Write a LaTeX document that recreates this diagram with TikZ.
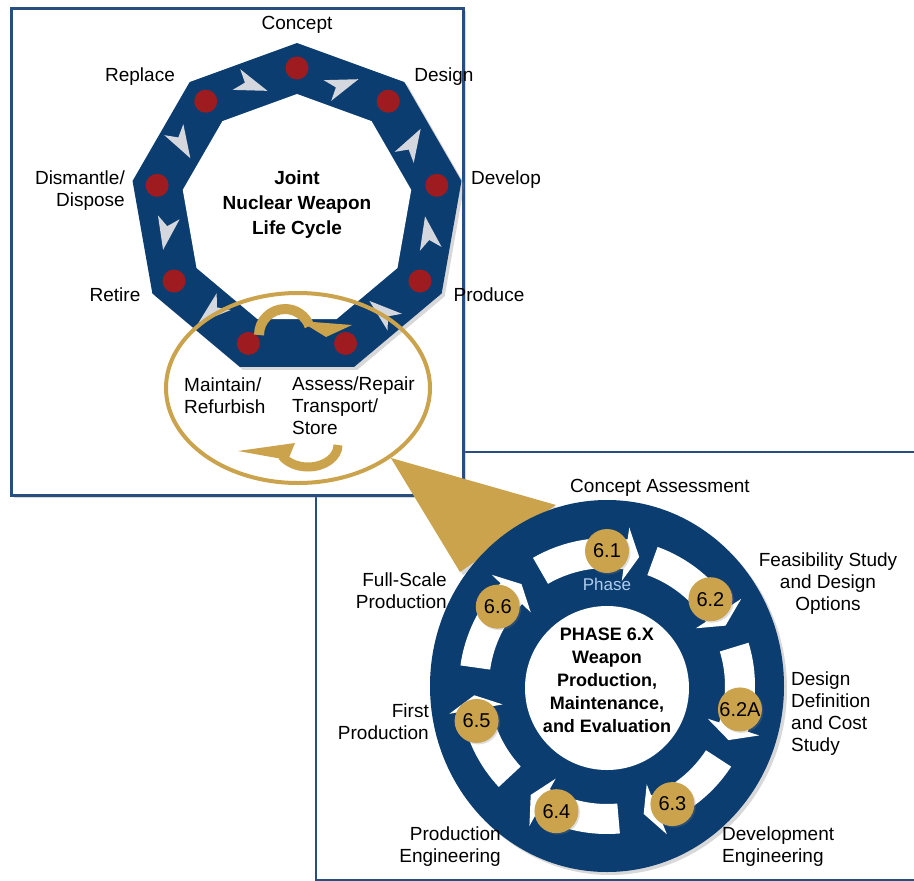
\documentclass[tikz,border=0pt]{standalone}
\usepackage{fontspec}
\setmainfont{Liberation Sans}
\usetikzlibrary{shapes.geometric,shadows}

\definecolor{navy}{RGB}{12,61,112}
\definecolor{dotred}{RGB}{158,27,32}
\definecolor{gold}{RGB}{203,163,76}
\definecolor{dartgrey}{RGB}{212,216,222}
\definecolor{frameblue}{RGB}{40,78,128}
\definecolor{phaseblue}{RGB}{175,205,238}

\begin{document}
\begin{tikzpicture}[x=1pt, y=-1pt,
  stagetext/.style={font=\fontsize{19}{22}\selectfont, inner sep=0pt},
  titletext/.style={font=\fontsize{19}{25}\selectfont\bfseries, align=center, inner sep=0pt},
  hubtext/.style={font=\fontsize{18}{23}\selectfont\bfseries, align=center, inner sep=0pt},
  badge/.style={circle, fill=gold, minimum size=44, inner sep=0pt, font=\fontsize{20}{20}\selectfont,
    drop shadow={opacity=0.25, shadow xshift=1.5pt, shadow yshift=-1.5pt}},
  dot/.style={circle, fill=dotred, minimum size=23, inner sep=0pt},
  panel/.style={draw=frameblue, line width=2.5pt, fill=white},
  softshadow/.style={drop shadow={opacity=0.3, shadow xshift=3pt, shadow yshift=-3pt}},
]
  \useasboundingbox (0,0) rectangle (914,881);

  % lower panel, open to the right
  \fill[white] (316,452) rectangle (914,880);
  \draw[frameblue, line width=2.5pt] (914,452) -- (316,452) -- (316,880) -- (914,880);

  % upper panel
  \node[panel, softshadow, minimum width=452, minimum height=487, anchor=north west] (cyclebox) at (10,7) {};

  % nine-sided life cycle band
  \begin{scope}[shift={(297,210)}, yscale=-1]
    \fill[navy, softshadow] (90:167) \foreach \k in {1,...,8} {-- ({90+40*\k}:167)} -- cycle;
    \fill[white] (90:116) \foreach \k in {1,...,8} {-- ({90+40*\k}:116)} -- cycle;
    \foreach \a in {110,70,30,-10,-50,-130,-170,150}
      \fill[dartgrey, shift={(\a:133)}, rotate=\a-90] (17,0) -- (-16,11) -- (-7,0) -- (-16,-11) -- cycle;
    \foreach \k in {0,...,8}
      \node[dot] (dot\k) at ({90-40*\k}:142) {};
  \end{scope}

  % life cycle labels
  \node[stagetext] (concept) at (297,25) {Concept};
  \node[stagetext] (design) at (444,77) {Design};
  \node[stagetext] (develop) at (506,180) {Develop};
  \node[stagetext] (produce) at (489,295) {Produce};
  \node[stagetext] (retire) at (115,295) {Retire};
  \node[stagetext] (replace) at (140,77) {Replace};
  \node[stagetext, align=right, anchor=east] (dismantle) at (125,191) {Dismantle/\\Dispose};
  \node[stagetext, align=left, anchor=west] (maintain) at (184,396) {Maintain/\\Refurbish};
  \node[stagetext, align=left, anchor=west] (assess) at (292,406) {Assess/Repair\\Transport/\\Store};
  \node[titletext] (cycletitle) at (297,205) {Joint\\Nuclear Weapon\\Life Cycle};

  % gold lens and loop arrows
  \node[ellipse, draw=gold, line width=4pt, minimum width=264, minimum height=190, inner sep=0pt] (lens) at (298,388) {};
  \draw[gold, line width=10pt] (259,335) arc[start angle=180, end angle=340, radius=26];
  \fill[gold] (300,321) -- (352,325) -- (326,337) -- cycle;
  \draw[gold, line width=9pt] (338,445) arc[start angle=0, end angle=150, x radius=30, y radius=22];
  \fill[gold] (238,451) -- (295,443) -- (288,460) -- cycle;

  % callout to the phase wheel
  \coordinate (fanA) at (460,572);
  \coordinate (fanB) at (556,505);
  \fill[gold, softshadow] (lens.-37) -- (fanA) -- (fanB) -- cycle;

  % phase wheel
  \node[ellipse, fill=navy, minimum width=354, minimum height=372, inner sep=0pt, softshadow] (wheel) at (607,686) {};
  \node[circle, fill=white, minimum size=164, inner sep=0pt] (hub) at (607,688) {};
  \begin{scope}[shift={(607,686)}, yscale=-1]
    \foreach \s/\t in {120/76, 70/27, 17/-24, -33/-74, -85/-125, -137/-176, 172/130}
      \fill[white] (\s:148) arc[start angle=\s, end angle=\t+6, radius=148]
        -- ({\t+6}:160) -- (\t:133) -- ({\t+6}:106) -- ({\t+6}:118)
        arc[start angle=\t+6, end angle=\s, radius=118] -- cycle;
    \foreach \lab/\ang [count=\n] in {6.1/90, 6.2/40, 6.2A/-10, 6.3/-61, 6.4/-112, 6.5/-165, 6.6/144}
      \node[badge] (phase\n) at (\ang:135) {\lab};
  \end{scope}
  \node[font=\fontsize{17}{17}\selectfont, text=phaseblue, inner sep=0pt] (phaseword) at (607,584) {Phase};
  \node[hubtext] (hubtitle) at (607,680) {PHASE 6.X\\Weapon\\Production,\\Maintenance,\\and Evaluation};

  % phase labels
  \node[stagetext] (assesslbl) at (660,488) {Concept Assessment};
  \node[stagetext, align=center] (feaslbl) at (828,584) {Feasibility Study\\and Design\\Options};
  \node[stagetext, align=left, anchor=west] (deflbl) at (791,714) {Design\\Definition\\and Cost\\Study};
  \node[stagetext, align=left, anchor=west] (devlbl) at (722,847) {Development\\Engineering};
  \node[stagetext, align=right, anchor=east] (prodlbl) at (501,847) {Production\\Engineering};
  \node[stagetext, align=right, anchor=east] (firstlbl) at (429,722) {First\\Production};
  \node[stagetext, align=right, anchor=east] (fulllbl) at (447,591) {Full-Scale\\Production};
\end{tikzpicture}
\end{document}
